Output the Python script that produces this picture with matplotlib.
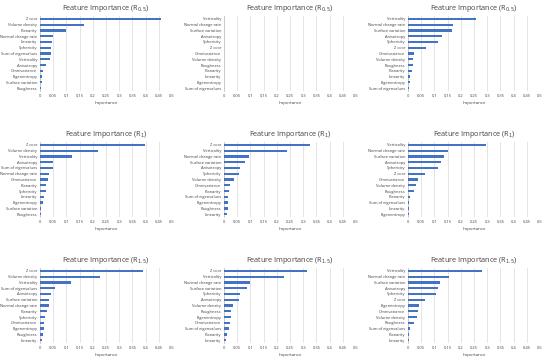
import matplotlib.pyplot as plt

# feature names and importances, top to bottom as drawn in each panel
labels_a1 = ["Z coor", "Volume density", "Planarity", "Normal change rate", "Linearity", "Sphericity",
             "Sum of eigenvalues", "Verticality", "Anisotropy", "Omnivariance", "Eigenentropy",
             "Surface variation", "Roughness"]
values_a1 = [0.458, 0.168, 0.098, 0.050, 0.045, 0.042, 0.040, 0.039, 0.023, 0.011, 0.008, 0.007, 0.004]

labels_a2 = ["Verticality", "Normal change rate", "Surface variation", "Anisotropy", "Sphericity", "Z coor",
             "Omnivariance", "Volume density", "Roughness", "Planarity", "Linearity", "Eigenentropy",
             "Sum of eigenvalues"]
values_a2 = [0, 0, 0, 0, 0, 0, 0, 0, 0, 0, 0, 0, 0]

labels_a3 = ["Verticality", "Normal change rate", "Surface variation", "Anisotropy", "Sphericity", "Z coor",
             "Omnivariance", "Volume density", "Roughness", "Planarity", "Linearity", "Eigenentropy",
             "Sum of eigenvalues"]
values_a3 = [0.258, 0.171, 0.165, 0.128, 0.115, 0.068, 0.024, 0.020, 0.019, 0.015, 0.008, 0.006, 0.004]

labels_b1 = ["Z coor", "Volume density", "Verticality", "Anisotropy", "Sum of eigenvalues", "Normal change rate",
             "Omnivariance", "Planarity", "Sphericity", "Linearity", "Eigenentropy", "Surface variation",
             "Roughness"]
values_b1 = [0.399, 0.221, 0.120, 0.050, 0.049, 0.035, 0.032, 0.024, 0.023, 0.015, 0.013, 0.005, 0.004]

labels_b2 = ["Z coor", "Verticality", "Normal change rate", "Surface variation", "Anisotropy", "Sphericity",
             "Volume density", "Omnivariance", "Planarity", "Sum of eigenvalues", "Eigenentropy", "Roughness",
             "Linearity"]
values_b2 = [0.324, 0.240, 0.093, 0.078, 0.060, 0.058, 0.039, 0.021, 0.018, 0.016, 0.016, 0.015, 0.013]

labels_b3 = ["Verticality", "Normal change rate", "Surface variation", "Anisotropy", "Sphericity", "Z coor",
             "Omnivariance", "Volume density", "Roughness", "Planarity", "Sum of eigenvalues", "Linearity",
             "Eigenentropy"]
values_b3 = [0.294, 0.150, 0.138, 0.126, 0.114, 0.063, 0.038, 0.029, 0.022, 0.008, 0.004, 0.004, 0.002]

labels_c1 = ["Z coor", "Volume density", "Verticality", "Sum of eigenvalues", "Anisotropy", "Surface variation",
             "Normal change rate", "Planarity", "Sphericity", "Omnivariance", "Eigenentropy", "Roughness",
             "Linearity"]
values_c1 = [0.391, 0.229, 0.117, 0.056, 0.042, 0.034, 0.033, 0.027, 0.020, 0.016, 0.015, 0.010, 0.008]

labels_c2 = ["Z coor", "Verticality", "Normal change rate", "Surface variation", "Sphericity", "Anisotropy",
             "Volume density", "Roughness", "Eigenentropy", "Omnivariance", "Sum of eigenvalues", "Planarity",
             "Linearity"]
values_c2 = [0.315, 0.228, 0.100, 0.088, 0.060, 0.058, 0.034, 0.028, 0.026, 0.023, 0.018, 0.011, 0.009]

labels_c3 = ["Verticality", "Normal change rate", "Surface variation", "Anisotropy", "Sphericity", "Z coor",
             "Eigenentropy", "Omnivariance", "Volume density", "Roughness", "Sum of eigenvalues", "Planarity",
             "Linearity"]
values_c3 = [0.280, 0.157, 0.122, 0.115, 0.106, 0.065, 0.040, 0.039, 0.035, 0.024, 0.006, 0.005, 0.004]

titles = ["Feature Importance (R$_{0.5}$)", "Feature Importance (R$_{1}$)", "Feature Importance (R$_{1.5}$)"]
xticks = [0, 0.05, 0.1, 0.15, 0.2, 0.25, 0.3, 0.35, 0.4, 0.45, 0.5]
xtick_labels = ["0", "0.05", "0.1", "0.15", "0.2", "0.25", "0.3", "0.35", "0.4", "0.45", "0.5"]

panels = [
    [(labels_a1, values_a1), (labels_a2, values_a2), (labels_a3, values_a3)],
    [(labels_b1, values_b1), (labels_b2, values_b2), (labels_b3, values_b3)],
    [(labels_c1, values_c1), (labels_c2, values_c2), (labels_c3, values_c3)],
]

W, H = 550, 360
fig = plt.figure(figsize=(5.5, 3.6), dpi=100)
plt.rcParams['font.family'] = ['Open Sans', 'DejaVu Sans']

lefts = [40, 224, 408]
tops = [16, 142, 268]
ax_w, ax_h = 132, 75
bar_color = "#4472C4"

for r in range(3):
    for c in range(3):
        labels, values = panels[r][c]
        ax = fig.add_axes([lefts[c] / W, (H - tops[r] - ax_h) / H, ax_w / W, ax_h / H])
        y = list(range(len(labels)))
        ax.barh(y, values, height=0.4, color=bar_color, zorder=3)
        ax.set_yticks(y)
        ax.set_yticklabels(labels, fontsize=2.9, color="#404040")
        ax.set_ylim(len(labels) - 0.5, -0.5)
        ax.set_xlim(0, 0.5)
        ax.set_xticks(xticks)
        ax.set_xticklabels(xtick_labels, fontsize=2.9, color="#404040")
        ax.tick_params(length=0, pad=2)
        ax.grid(axis='x', color="#D9D9D9", linewidth=0.5, zorder=0)
        for s in ["top", "right", "bottom"]:
            ax.spines[s].set_visible(False)
        ax.spines["left"].set_color("#BFBFBF")
        ax.spines["left"].set_linewidth(0.5)
        ax.set_xlabel("Importance", fontsize=3.2, color="#404040", labelpad=2)
        ax.set_title(titles[r], fontsize=5.2, color="#404040", pad=4)

fig.savefig("out.png", dpi=100)
